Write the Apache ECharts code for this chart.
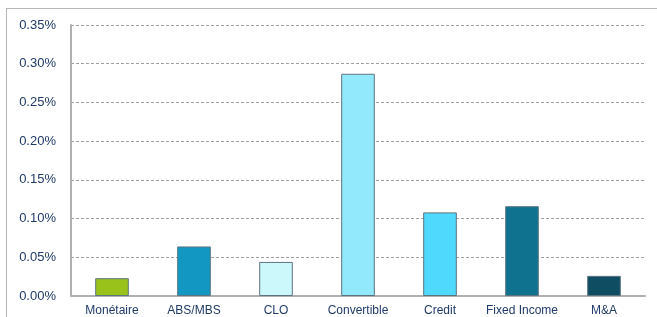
<!DOCTYPE html>
<html>
<head>
<meta charset="utf-8">
<title>Chart</title>
<script src="https://cdn.jsdelivr.net/npm/echarts@6/dist/echarts.min.js"></script>
<style>
  body { margin: 0; background: #fff; }
  #frame { position: absolute; left: 6px; top: 8px; width: 660px; height: 320px; border: 1px solid #b4b4b4; }
  #chart { position: absolute; left: 0; top: 0; width: 657px; height: 317px; }
</style>
</head>
<body>
<div id="frame"></div>
<div id="chart"></div>
<script>
var categories = ['Monétaire', 'ABS/MBS', 'CLO', 'Convertible', 'Credit', 'Fixed Income', 'M&A'];
var values = [0.023, 0.064, 0.044, 0.287, 0.108, 0.116, 0.026];
var barColors = ['#99c31b', '#1297c3', '#ccf8fc', '#93e9fc', '#4fd9fc', '#0f7390', '#0f4e62'];

var myChart = echarts.init(document.getElementById('chart'));
var option = {
    animation: false,
    grid: { left: 71, right: 12, top: 25, bottom: 20 },
    xAxis: {
        type: 'category',
        data: categories,
        axisLine: { lineStyle: { color: '#b0b0b0', width: 2 } },
        axisTick: { show: false },
        axisLabel: { interval: 0, color: '#1f3a68', fontFamily: 'Liberation Sans', fontSize: 12, margin: 9 }
    },
    yAxis: {
        type: 'value',
        min: 0,
        max: 0.35,
        interval: 0.05,
        axisLine: { show: true, lineStyle: { color: '#b0b0b0', width: 2 } },
        axisTick: { show: false },
        axisLabel: {
            color: '#1f3a68', fontFamily: 'Liberation Sans', fontSize: 13, margin: 15,
            formatter: function (v) { return v.toFixed(2) + '%'; }
        },
        splitLine: { lineStyle: { color: '#a0a0a0', type: [3, 2], width: 1 } }
    },
    series: [{
        type: 'bar',
        barWidth: '41%',
        data: values.map(function (v, i) {
            return { value: v, itemStyle: { color: barColors[i] } };
        }),
        itemStyle: { borderColor: '#5d7480', borderWidth: 1 }
    }]
};
myChart.setOption(option);
</script>
</body>
</html>
